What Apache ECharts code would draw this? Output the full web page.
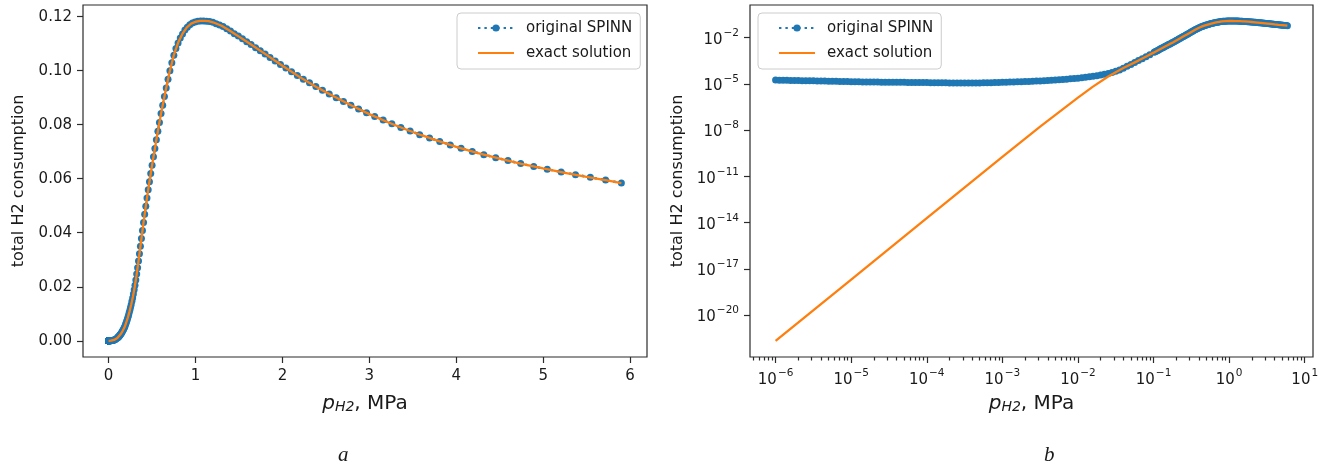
<!DOCTYPE html>
<html>
<head>
<meta charset="utf-8">
<script src="https://cdn.jsdelivr.net/npm/echarts@6/dist/echarts.min.js"></script>
<style>
  html, body { margin: 0; padding: 0; background: #ffffff; }
  #chart { width: 1336px; height: 467px; }
</style>
</head>
<body>
<div id="chart"></div>
<script>
// H2 partial pressure of the SPINN predictions, MPa
const spinnP = [
  1.000e-6, 1.122e-6, 1.259e-6, 1.413e-6, 1.585e-6, 1.778e-6, 1.995e-6, 2.239e-6, 2.512e-6, 2.818e-6,
  3.162e-6, 3.548e-6, 3.981e-6, 4.467e-6, 5.012e-6, 5.623e-6, 6.310e-6, 7.079e-6, 7.943e-6, 8.913e-6,
  1.000e-5, 1.122e-5, 1.259e-5, 1.413e-5, 1.585e-5, 1.778e-5, 1.995e-5, 2.239e-5, 2.512e-5, 2.818e-5,
  3.162e-5, 3.548e-5, 3.981e-5, 4.467e-5, 5.012e-5, 5.623e-5, 6.310e-5, 7.079e-5, 7.943e-5, 8.913e-5,
  1.000e-4, 1.122e-4, 1.259e-4, 1.413e-4, 1.585e-4, 1.778e-4, 1.995e-4, 2.239e-4, 2.512e-4, 2.818e-4,
  3.162e-4, 3.548e-4, 3.981e-4, 4.467e-4, 5.012e-4, 5.623e-4, 6.310e-4, 7.079e-4, 7.943e-4, 8.913e-4,
  1.000e-3, 1.122e-3, 1.259e-3, 1.413e-3, 1.585e-3, 1.778e-3, 1.995e-3, 2.239e-3, 2.512e-3, 2.818e-3,
  3.162e-3, 3.548e-3, 3.981e-3, 4.467e-3, 5.012e-3, 5.623e-3, 6.310e-3, 7.079e-3, 7.943e-3, 8.913e-3,
  1.000e-2, 1.122e-2, 1.259e-2, 1.413e-2, 1.585e-2, 1.778e-2, 1.995e-2, 2.239e-2, 2.512e-2, 2.818e-2,
  3.162e-2, 3.548e-2, 3.981e-2, 4.467e-2, 5.012e-2, 5.623e-2, 6.310e-2, 7.079e-2, 7.943e-2, 8.913e-2,
  0.1016, 0.1049, 0.1082, 0.1116, 0.1152, 0.1188, 0.1226, 0.1265, 0.1305, 0.1346,
  0.1389, 0.1433, 0.1478, 0.1525, 0.1574, 0.1624, 0.1675, 0.1728, 0.1783, 0.1840,
  0.1898, 0.1959, 0.2021, 0.2085, 0.2151, 0.2219, 0.2290, 0.2362, 0.2437, 0.2515,
  0.2594, 0.2677, 0.2762, 0.2849, 0.2940, 0.3033, 0.3129, 0.3229, 0.3331, 0.3437,
  0.3546, 0.3658, 0.3774, 0.3894, 0.4018, 0.4145, 0.4277, 0.4413, 0.4553, 0.4697,
  0.4846, 0.5000, 0.5159, 0.5323, 0.5492, 0.5666, 0.5846, 0.6031, 0.6223, 0.6420,
  0.6624, 0.6834, 0.7051, 0.7275, 0.7506, 0.7744, 0.7990, 0.8243, 0.8505, 0.8775,
  0.9054, 0.9341, 0.9637, 0.9943, 1.0259, 1.0584, 1.0920, 1.1267, 1.1624, 1.1993,
  1.2374, 1.2767, 1.3172, 1.3590, 1.4021, 1.4466, 1.4925, 1.5398, 1.5887, 1.6391,
  1.6911, 1.7448, 1.8002, 1.8573, 1.9162, 1.9770, 2.0398, 2.1045, 2.1713, 2.2402,
  2.3113, 2.3846, 2.4603, 2.5384, 2.6189, 2.7020, 2.7877, 2.8762, 2.9675, 3.0617,
  3.1589, 3.2591, 3.3625, 3.4692, 3.5793, 3.6929, 3.8101, 3.9310, 4.0557, 4.1844,
  4.3172, 4.4542, 4.5955, 4.7413, 4.8918, 5.0470, 5.2071, 5.3723, 5.5427, 5.7186,
  5.900
];

// total H2 consumption predicted by the original SPINN
const spinnH2 = [
  1.74e-5, 1.72e-5, 1.70e-5, 1.68e-5, 1.66e-5, 1.64e-5, 1.62e-5, 1.60e-5, 1.58e-5, 1.57e-5,
  1.55e-5, 1.53e-5, 1.51e-5, 1.50e-5, 1.48e-5, 1.46e-5, 1.45e-5, 1.43e-5, 1.41e-5, 1.40e-5,
  1.38e-5, 1.36e-5, 1.35e-5, 1.33e-5, 1.32e-5, 1.30e-5, 1.29e-5, 1.29e-5, 1.28e-5, 1.27e-5,
  1.26e-5, 1.25e-5, 1.25e-5, 1.24e-5, 1.24e-5, 1.23e-5, 1.22e-5, 1.22e-5, 1.21e-5, 1.21e-5,
  1.20e-5, 1.19e-5, 1.19e-5, 1.17e-5, 1.16e-5, 1.15e-5, 1.14e-5, 1.13e-5, 1.12e-5, 1.12e-5,
  1.11e-5, 1.11e-5, 1.12e-5, 1.12e-5, 1.14e-5, 1.15e-5, 1.16e-5, 1.18e-5, 1.21e-5, 1.23e-5,
  1.26e-5, 1.28e-5, 1.30e-5, 1.32e-5, 1.35e-5, 1.37e-5, 1.40e-5, 1.43e-5, 1.46e-5, 1.50e-5,
  1.54e-5, 1.58e-5, 1.64e-5, 1.69e-5, 1.76e-5, 1.83e-5, 1.91e-5, 2.00e-5, 2.09e-5, 2.21e-5,
  2.33e-5, 2.48e-5, 2.64e-5, 2.83e-5, 3.05e-5, 3.33e-5, 3.66e-5, 4.09e-5, 4.66e-5, 5.42e-5,
  6.46e-5, 7.94e-5, 1.02e-4, 1.35e-4, 1.80e-4, 2.40e-4, 3.20e-4, 4.27e-4, 5.69e-4, 7.59e-4,
  0.0011, 0.0012, 0.0013, 0.0014, 0.0015, 0.0017, 0.0018, 0.0020, 0.0021, 0.0023,
  0.0025, 0.0027, 0.0029, 0.0032, 0.0035, 0.0037, 0.0040, 0.0044, 0.0047, 0.0051,
  0.0056, 0.0062, 0.0067, 0.0073, 0.0080, 0.0087, 0.0095, 0.0104, 0.0113, 0.0123,
  0.0133, 0.0146, 0.0158, 0.0173, 0.0189, 0.0206, 0.0225, 0.0247, 0.0270, 0.0295,
  0.0322, 0.0350, 0.0379, 0.0408, 0.0438, 0.0468, 0.0498, 0.0529, 0.0559, 0.0589,
  0.0619, 0.0650, 0.0681, 0.0712, 0.0744, 0.0776, 0.0808, 0.0841, 0.0872, 0.0904,
  0.0936, 0.0968, 0.1000, 0.1029, 0.1057, 0.1082, 0.1102, 0.1121, 0.1136, 0.1150,
  0.1161, 0.1170, 0.1176, 0.1180, 0.1183, 0.1184, 0.1184, 0.1183, 0.1182, 0.1179,
  0.1174, 0.1169, 0.1163, 0.1155, 0.1147, 0.1137, 0.1128, 0.1118, 0.1107, 0.1097,
  0.1085, 0.1074, 0.1062, 0.1049, 0.1036, 0.1023, 0.1010, 0.0996, 0.0982, 0.0968,
  0.0955, 0.0941, 0.0927, 0.0914, 0.0900, 0.0886, 0.0872, 0.0858, 0.0844, 0.0830,
  0.0817, 0.0803, 0.0790, 0.0777, 0.0763, 0.0751, 0.0738, 0.0725, 0.0713, 0.0701,
  0.0689, 0.0678, 0.0667, 0.0656, 0.0645, 0.0635, 0.0625, 0.0615, 0.0605, 0.0595,
  0.0584
];

// H2 partial pressure of the exact solution, MPa
const exactP = [
  1e-6, 1e-5, 1e-4, 1e-3, 3.16e-3, 1e-2, 1.58e-2, 2.51e-2, 3.98e-2, 6.31e-2, 0.08,
  0.10, 0.12, 0.14, 0.16, 0.18, 0.20, 0.22, 0.24, 0.26, 0.28,
  0.30, 0.32, 0.34, 0.36, 0.38, 0.40, 0.42, 0.44, 0.46, 0.48,
  0.50, 0.55, 0.60, 0.65, 0.70, 0.75, 0.80, 0.85, 0.90, 0.95,
  1.00, 1.05, 1.10, 1.15, 1.20, 1.30, 1.40, 1.50, 1.60, 1.80,
  2.00, 2.20, 2.40, 2.60, 2.80, 3.00, 3.20, 3.40, 3.60, 3.80,
  4.00, 4.25, 4.50, 4.75, 5.00, 5.25, 5.50, 5.75, 5.90
];

// total H2 consumption of the exact solution
const exactH2 = [
  2.09e-22, 2.0e-18, 1.91e-14, 1.82e-10, 1.66e-8, 1.26e-6, 6.6e-6, 3.0e-5, 1.05e-4, 3.2e-4, 5.9e-4,
  0.00105, 0.0017, 0.0025, 0.0036, 0.0048, 0.0065, 0.0085, 0.0108, 0.0134, 0.0164,
  0.0199, 0.0240, 0.0286, 0.0335, 0.0385, 0.0434, 0.0481, 0.0526, 0.0569, 0.0610,
  0.0650, 0.0746, 0.0836, 0.0917, 0.0993, 0.1057, 0.1104, 0.1137, 0.1160, 0.1174,
  0.1181, 0.1184, 0.1184, 0.1183, 0.1179, 0.1166, 0.1147, 0.1126, 0.1105, 0.1062,
  0.1018, 0.0976, 0.0938, 0.0903, 0.0870, 0.0839, 0.0811, 0.0785, 0.0761, 0.0739,
  0.0718, 0.0695, 0.0674, 0.0655, 0.0638, 0.0622, 0.0607, 0.0593, 0.0584
];

// tick positions: linear panel values, log panel decade exponents
const linTicksX = [0, 1, 2, 3, 4, 5, 6];
const linTicksY = [0, 0.02, 0.04, 0.06, 0.08, 0.10, 0.12];
const logTicksX = [-6, -5, -4, -3, -2, -1, 0, 1];
const logTicksY = [-20, -17, -14, -11, -8, -5, -2];
const panelTags = ['a', 'b'];
const seriesNames = ['original SPINN', 'exact solution'];

const FONT = 'DejaVu Sans';
const INK = '#1a1a1a';
const SPINE = '#2b2b2b';
const BLUE = '#1f77b4';
const ORANGE = '#ff7f0e';
const TICK_FS = 15;

const lg = v => Math.log10(v);
const leftSpinn = spinnP.map((p, i) => [p, spinnH2[i]]);
const leftExact = exactP.map((p, i) => [p, exactH2[i]]);
const rightSpinn = spinnP.map((p, i) => [lg(p), lg(spinnH2[i])]);
const rightExact = exactP.map((p, i) => [lg(p), lg(exactH2[i])]);

// minor ticks of the logarithmic pressure axis (2..9 times each decade)
const X_LOG_MIN = -6.3385, X_LOG_MAX = 1.1094;
const minorLogX = [];
for (let d = -7; d <= 1; d++) {
  for (let k = 2; k <= 9; k++) {
    const v = d + Math.log10(k);
    if (v > X_LOG_MIN && v < X_LOG_MAX) minorLogX.push(v);
  }
}

function powLabel(v) {
  const e = Math.round(v);
  const s = e < 0 ? '\u2212' + (-e) : String(e);
  return '{b|10}{s|' + s + '}';
}
const powRich = {
  b: { fontFamily: FONT, fontSize: TICK_FS, color: INK, lineHeight: 20, verticalAlign: 'bottom' },
  s: { fontFamily: FONT, fontSize: 10.5, color: INK, lineHeight: 11, verticalAlign: 'top', padding: [0, 0, 0, 1] }
};

const xNameRich = {
  p: { fontFamily: FONT, fontStyle: 'italic', fontSize: 20, color: INK, lineHeight: 24, verticalAlign: 'bottom' },
  sub: { fontFamily: FONT, fontStyle: 'italic', fontSize: 14, color: INK, lineHeight: 16, verticalAlign: 'bottom' },
  t: { fontFamily: FONT, fontSize: 20, color: INK, lineHeight: 24, verticalAlign: 'bottom' }
};
const X_NAME = '{p|p}{sub|H2}{t|, MPa}';

const tick = (vals, len) => ({
  show: true, inside: false, length: len, customValues: vals,
  lineStyle: { color: SPINE, width: 1.2 }
});
const label = (vals, fmt, rich, margin) => ({
  show: true, customValues: vals, margin: margin, formatter: fmt,
  fontFamily: FONT, fontSize: TICK_FS, color: INK, rich: rich
});
const noLine = { show: false, onZero: false };
const yName = {
  name: 'total H2 consumption', nameLocation: 'middle', nameRotate: 90,
  nameTextStyle: { fontFamily: FONT, fontSize: 16, color: INK }
};

const legendBase = {
  orient: 'vertical', top: 13,
  data: [{ name: seriesNames[0] }, { name: seriesNames[1], itemStyle: { opacity: 0 } }],
  itemWidth: 36, itemHeight: 9, itemGap: 7,
  padding: [6, 8, 7, 20],
  backgroundColor: 'rgba(255,255,255,0.8)', borderColor: '#cccccc', borderWidth: 1, borderRadius: 4,
  textStyle: { fontFamily: FONT, fontSize: TICK_FS, color: INK, lineHeight: 18, padding: [0, 0, 0, 7] },
  selectedMode: false
};

const spinnSeries = (xi, data) => ({
  name: seriesNames[0], type: 'line', xAxisIndex: xi, yAxisIndex: xi === 0 ? 0 : 1, data: data,
  symbol: 'circle', symbolSize: 7, showSymbol: true, showAllSymbol: true,
  itemStyle: { color: BLUE },
  lineStyle: { color: BLUE, width: 2.4, type: [2.4, 4] },
  z: 2, silent: true, emphasis: { disabled: true }
});
const exactSeries = (xi, data) => ({
  name: seriesNames[1], type: 'line', xAxisIndex: xi, yAxisIndex: xi === 0 ? 0 : 1, data: data,
  symbol: 'none', showSymbol: false,
  itemStyle: { color: ORANGE },
  lineStyle: { color: ORANGE, width: 2.3 },
  z: 3, silent: true, emphasis: { disabled: true }
});

const option = {
  animation: false,
  backgroundColor: '#ffffff',
  grid: [
    { left: 83, top: 5, width: 564, height: 352, show: true, borderColor: SPINE, borderWidth: 1.2, backgroundColor: 'transparent' },
    { left: 750, top: 5, width: 563, height: 352, show: true, borderColor: SPINE, borderWidth: 1.2, backgroundColor: 'transparent' }
  ],
  xAxis: [
    {
      type: 'value', gridIndex: 0, min: -0.295, max: 6.195, position: 'bottom',
      axisLine: noLine, splitLine: { show: false },
      axisTick: tick(linTicksX, 6),
      axisLabel: label(linTicksX, v => String(Math.round(v)), undefined, 12),
      name: X_NAME, nameLocation: 'middle', nameGap: 33, nameTextStyle: { rich: xNameRich }
    },
    {
      type: 'value', gridIndex: 1, min: X_LOG_MIN, max: X_LOG_MAX, position: 'bottom',
      axisLine: noLine, splitLine: { show: false },
      axisTick: tick(logTicksX, 6),
      axisLabel: label(logTicksX, powLabel, powRich, 11),
      name: X_NAME, nameLocation: 'middle', nameGap: 33, nameTextStyle: { rich: xNameRich }
    },
    {
      type: 'value', gridIndex: 1, min: X_LOG_MIN, max: X_LOG_MAX, position: 'bottom', offset: 0,
      axisLine: noLine, splitLine: { show: false },
      axisTick: tick(minorLogX, 3.5),
      axisLabel: { show: false }
    }
  ],
  yAxis: [
    Object.assign({
      type: 'value', gridIndex: 0, min: -0.006, max: 0.1243, position: 'left',
      axisLine: noLine, splitLine: { show: false },
      axisTick: tick(linTicksY, 6),
      axisLabel: label(linTicksY, v => v.toFixed(2), undefined, 11),
      nameGap: 56
    }, yName),
    Object.assign({
      type: 'value', gridIndex: 1, min: -22.72, max: 0.111, position: 'left',
      axisLine: noLine, splitLine: { show: false },
      axisTick: tick(logTicksY, 6),
      axisLabel: label(logTicksY, powLabel, powRich, 11),
      nameGap: 64
    }, yName)
  ],
  legend: [
    Object.assign({ left: 457 }, legendBase),
    Object.assign({ left: 758 }, legendBase)
  ],
  series: [
    spinnSeries(0, leftSpinn),
    exactSeries(0, leftExact),
    spinnSeries(1, rightSpinn),
    exactSeries(1, rightExact)
  ],
  graphic: [
    { type: 'text', left: 338, top: 445, silent: true,
      style: { text: panelTags[0], font: 'italic 21px "Liberation Serif"', fill: INK } },
    { type: 'text', left: 1044, top: 445, silent: true,
      style: { text: panelTags[1], font: 'italic 21px "Liberation Serif"', fill: INK } }
  ]
};

const chart = echarts.init(document.getElementById('chart'), null, { renderer: 'canvas' });
chart.setOption(option);
</script>
</body>
</html>
